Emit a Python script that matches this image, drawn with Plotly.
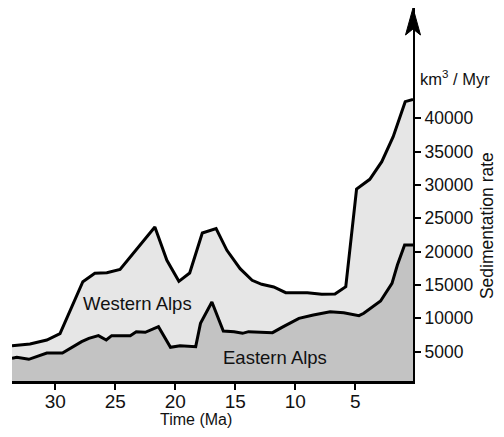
import plotly.graph_objects as go

# Time (Ma) and stacked totals (Western + Eastern Alps), km3/Myr
total_time = [33.6, 32.1, 30.7, 29.6, 27.7, 26.7, 25.7, 24.6, 21.7, 20.7, 19.7, 18.8,
              17.75, 16.6, 15.7, 14.6, 13.6, 12.8, 11.8, 10.8, 9.0, 7.8, 6.7, 5.8,
              4.9, 3.8, 2.8, 1.85, 0.85, 0.2]
total_rate = [5900, 6150, 6750, 7700, 15500, 16750, 16850, 17350, 23700, 18700, 15550, 16800,
              22800, 23450, 20200, 17450, 15700, 15100, 14700, 13850, 13850, 13600, 13650, 14750,
              29400, 30850, 33500, 37250, 42500, 42850]

# Eastern Alps
east_time = [33.6, 33.2, 32.2, 30.7, 29.4, 27.8, 27.2, 26.4, 25.75, 25.3, 23.75, 23.25,
             22.5, 21.4, 20.4, 19.6, 18.3, 17.9, 16.95, 16.0, 15.1, 14.4, 13.9, 11.9,
             11.0, 9.7, 8.5, 7.1, 5.97, 4.7, 4.3, 2.9, 1.95, 1.5, 0.9, 0.2]
east_rate = [4000, 4150, 3850, 4800, 4800, 6500, 7000, 7400, 6750, 7400, 7400, 8000,
             7900, 8750, 5650, 5900, 5750, 9250, 12450, 8100, 8000, 7750, 8000, 7850,
             8750, 10000, 10500, 11000, 10850, 10400, 10750, 12600, 15250, 18000, 21000, 21000]

x_ticks = [30, 25, 20, 15, 10, 5]
y_ticks = [5000, 10000, 15000, 20000, 25000, 30000, 35000, 40000]

FONT = "Liberation Sans"
INK = "#111111"

fig = go.Figure()
fig.add_trace(go.Scatter(x=total_time, y=total_rate, mode="lines", fill="tozeroy",
                         fillcolor="#e6e6e6", line=dict(color="black", width=3),
                         hoverinfo="skip", showlegend=False))
fig.add_trace(go.Scatter(x=east_time, y=east_rate, mode="lines", fill="tozeroy",
                         fillcolor="#c3c3c3", line=dict(color="black", width=3),
                         hoverinfo="skip", showlegend=False))

fig.update_layout(
    width=488, height=420,
    margin=dict(l=4, r=83, t=0, b=47, autoexpand=False),
    paper_bgcolor="white", plot_bgcolor="white",
    font=dict(family=FONT, color=INK),
    xaxis=dict(range=[33.6, 0.2], tickvals=x_ticks, ticks="outside", ticklen=6,
               tickwidth=2, tickcolor="black", showline=True, linewidth=3,
               linecolor="black", showgrid=False, zeroline=False,
               ticklabelstandoff=-5,
               tickfont=dict(size=19, family=FONT, color=INK)),
    yaxis=dict(range=[600, 56550], side="right", tickvals=y_ticks,
               ticktext=[str(v) for v in y_ticks], ticks="outside", ticklen=6,
               tickwidth=1.5, tickcolor="black", showline=True, linewidth=2,
               linecolor="black", showgrid=False, zeroline=False,
               tickfont=dict(size=17.5, family=FONT, color=INK)),
)

# Arrowhead at the top of the right axis
fig.add_shape(type="path", xref="paper", yref="paper", xanchor=1, yanchor=1,
              xsizemode="pixel", ysizemode="pixel",
              path="M0,0 L-7.5,-27 L0,-21 L7.5,-27 Z",
              fillcolor="black", line=dict(color="black", width=1))

def ann(text, x, y, size, **kw):
    fig.add_annotation(text=text, xref="paper", yref="paper", x=x, y=y,
                       showarrow=False, font=dict(size=size, family=FONT, color=INK), **kw)

ann("Time (Ma)", 0.459, -0.1019, 16, xanchor="center", yanchor="middle")
ann("km<sup>3</sup> / Myr", 1.0125, 0.812, 16.5, xanchor="left", yanchor="middle")
ann("Sedimentation rate", 1.1845, 0.418, 17.5, xanchor="center", yanchor="middle", textangle=-90)
ann("Western Alps", 0.314, 0.209, 18.5, xanchor="center", yanchor="middle")
ann("Eastern Alps", 0.656, 0.0617, 18.5, xanchor="center", yanchor="middle")

fig.write_html("out.html")
